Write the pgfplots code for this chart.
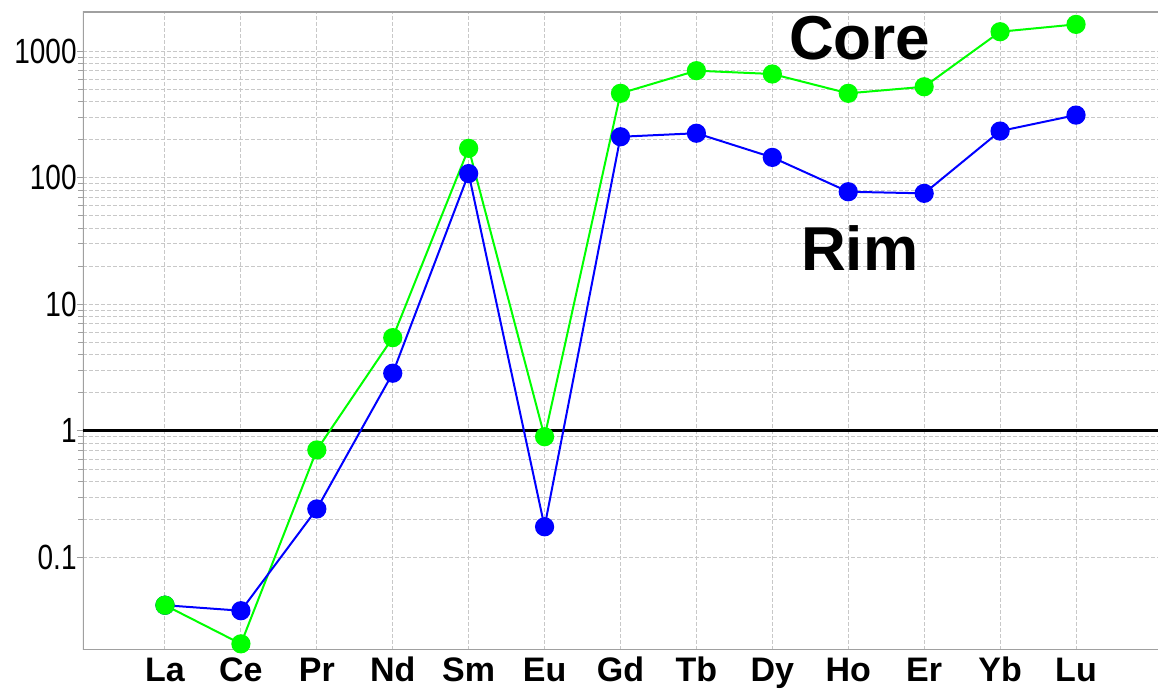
\documentclass[border=0pt]{standalone}
\usepackage{pgfplots}
\pgfplotsset{compat=1.18}
\usepackage{pgfplotstable}
\usepackage{fontspec}
\setmainfont{Liberation Sans}
\newfontfamily\narrowfont[FakeStretch=0.8]{Liberation Sans}
\definecolor{coregreen}{RGB}{0,255,0}
\definecolor{rimblue}{RGB}{0,0,255}
\definecolor{gridgray}{RGB}{200,200,200}
\definecolor{framegray}{RGB}{160,160,160}

\pgfplotstableread{
x core rim
0 0.042 0.042
1 0.0208 0.038
2 0.708 0.242
3 5.46 2.86
4 171 108
5 0.90 0.175
6 465 211
7 702 225
8 661 145
9 465 77.6
10 524 75.4
11 1426 234
12 1630 313
}\datatable

\begin{document}
\begin{tikzpicture}
\begin{axis}[
  scale only axis, width=537.5pt, height=319pt,
  ymode=log,
  xmin=-1.08, xmax=13.08, ymin=0.0186, ymax=2042,
  xtick={0,...,12},
  xticklabels={La,Ce,Pr,Nd,Sm,Eu,Gd,Tb,Dy,Ho,Er,Yb,Lu},
  ytick={0.1,1,10,100,1000},
  yticklabels={0.1,1,10,100,1000},
  xtick pos=bottom, ytick pos=left,
  xmajorgrids, ymajorgrids, yminorgrids,
  grid style={gridgray, line width=0.5pt, dash pattern=on 2pt off 1pt},
  major grid style={gridgray, line width=0.5pt, dash pattern=on 2pt off 1pt},
  minor grid style={gridgray, line width=0.5pt, dash pattern=on 2pt off 1pt},
  axis line style={draw=none},
  x tick style={draw=none},
  y tick style={framegray, line width=0.5pt},
  tick align=outside, major tick length=3pt, minor tick length=2.5pt,
  xticklabel style={font=\fontsize{17}{20}\selectfont\bfseries, anchor=base, inner sep=0pt, yshift=-13pt},
  yticklabel style={font=\narrowfont\fontsize{17.5}{20}\selectfont, anchor=east, inner sep=0pt},
]
\coordinate (bl) at (rel axis cs:0,0);
\coordinate (tr) at (rel axis cs:1,1);
\draw[framegray, line width=0.8pt] (rel axis cs:0,0) -- (rel axis cs:1,0);
\draw[framegray, line width=0.8pt] (rel axis cs:0,0) -- (rel axis cs:0,1) -- (rel axis cs:1,1);
\addplot[black, line width=1.5pt, forget plot] coordinates {(-1.08,1) (13.08,1)};
\addplot[coregreen, line width=1pt, mark=*, mark size=4.3pt, mark options={fill=coregreen, draw=coregreen, solid}] table[x=x, y=core] {\datatable};
\addplot[rimblue, line width=1pt, mark=*, mark size=4.3pt, mark options={fill=rimblue, draw=rimblue, solid}] table[x=x, y=rim] {\datatable};
\addplot[only marks, mark=*, mark size=4.3pt, mark options={fill=coregreen, draw=coregreen, line width=1pt}, restrict x to domain=-0.5:0.5] table[x=x, y=core] {\datatable};
\node[font=\fontsize{31}{36}\selectfont\bfseries] at (axis cs:9.15,1279) {Core};
\node[font=\fontsize{31}{36}\selectfont\bfseries] at (axis cs:9.15,28.1) {Rim};
\end{axis}
\pgfresetboundingbox
\path ([shift={(-41.5pt,-22.5pt)}]bl) rectangle ([shift={(0pt,6pt)}]tr);
\end{tikzpicture}
\end{document}
